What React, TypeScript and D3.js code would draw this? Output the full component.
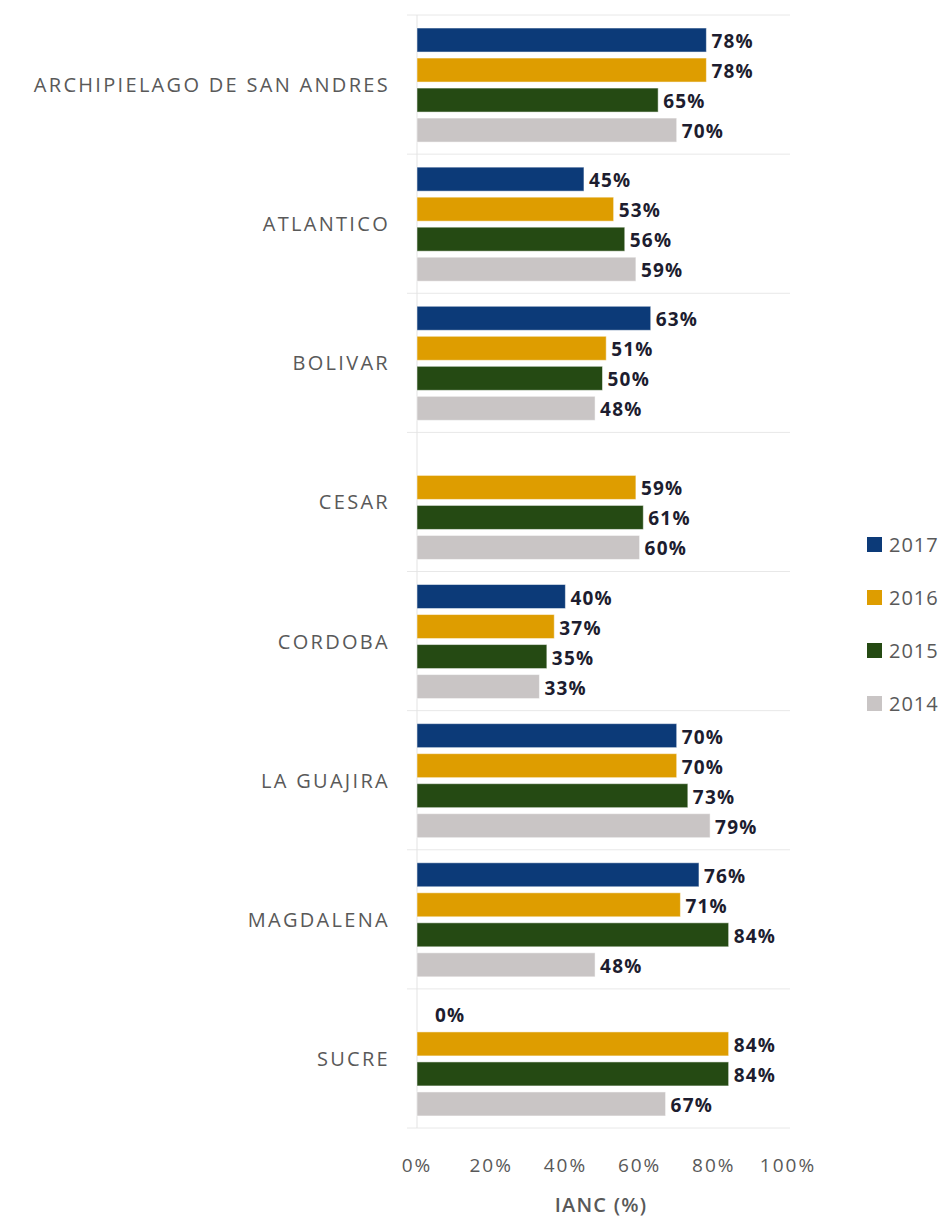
import React from "react";
import * as d3 from "d3";

const categories = [
  "ARCHIPIELAGO DE SAN ANDRES",
  "ATLANTICO",
  "BOLIVAR",
  "CESAR",
  "CORDOBA",
  "LA GUAJIRA",
  "MAGDALENA",
  "SUCRE",
];
const seriesNames = ["2017", "2016", "2015", "2014"];
const values2017: (number | null)[] = [78, 45, 63, null, 40, 70, 76, 0];
const values2016: (number | null)[] = [78, 53, 51, 59, 37, 70, 71, 84];
const values2015: (number | null)[] = [65, 56, 50, 61, 35, 73, 84, 84];
const values2014: (number | null)[] = [70, 59, 48, 60, 33, 79, 48, 67];
const seriesColors = ["#0c3a78", "#de9d00", "#254a13", "#c9c5c5"];
const xTicks = [0, 20, 40, 60, 80, 100];
const axisTitle = "IANC (%)";

const seriesValues = [values2017, values2016, values2015, values2014];

export default function App() {
  const W = 947;
  const H = 1218;
  const x = d3.scaleLinear().domain([0, 100]).range([417, 788]);
  const y = d3.scaleBand<string>().domain(categories).range([15, 1128]).padding(0);
  const gh = y.bandwidth();
  const inner = d3
    .scaleBand<string>()
    .domain(seriesNames)
    .range([gh * 0.072, gh * 0.935])
    .paddingInner(0.2)
    .paddingOuter(0.1);

  const sepYs = categories.map((c) => y(c) as number).concat([y.range()[1]]);
  const labelFont = "'Open Sans', sans-serif";

  return (
    <svg
      width={W}
      height={H}
      viewBox={`0 0 ${W} ${H}`}
      style={{ position: "absolute", left: 0, top: 0, background: "#fff" }}
    >
      <rect x={0} y={0} width={W} height={H} fill="#fff" />
      {sepYs.map((sy, i) => (
        <line key={"s" + i} x1={407} x2={790} y1={sy} y2={sy} stroke="#e8e8e8" strokeWidth={1} />
      ))}
      <line x1={x(0)} x2={x(0)} y1={y.range()[0]} y2={y.range()[1]} stroke="#e3e3e3" strokeWidth={1} />

      {categories.map((c, ci) => {
        const gy = y(c) as number;
        return (
          <g key={c}>
            <text
              x={390}
              y={gy + gh / 2}
              textAnchor="end"
              dominantBaseline="central"
              fontFamily={labelFont}
              fontSize={20}
              letterSpacing={2.3}
              fill="#595959"
            >
              {c}
            </text>
            {seriesNames.map((s, si) => {
              const v = seriesValues[si][ci];
              if (v === null) return null;
              const by = gy + (inner(s) as number);
              const bw = inner.bandwidth();
              const xe = x(v);
              const lx = Math.max(xe + 5, x(0) + 18);
              return (
                <g key={s}>
                  {v > 0 && (
                    <rect
                      x={x(0)}
                      y={by}
                      width={xe - x(0)}
                      height={bw}
                      fill={seriesColors[si]}
                      stroke="#ffffff"
                      strokeOpacity={0.5}
                      strokeWidth={1}
                    />
                  )}
                  <text
                    x={lx}
                    y={by + bw / 2 + 1}
                    dominantBaseline="central"
                    fontFamily={labelFont}
                    fontWeight="bold"
                    fontSize={19}
                    letterSpacing={1.2}
                    fill="#1d1d2f"
                  >
                    {v + "%"}
                  </text>
                </g>
              );
            })}
          </g>
        );
      })}

      {xTicks.map((t) => (
        <text
          key={"t" + t}
          x={x(t)}
          y={1172}
          textAnchor="middle"
          fontFamily={labelFont}
          fontSize={19}
          letterSpacing={2}
          fill="#595959"
        >
          {t + "%"}
        </text>
      ))}
      <text
        x={601}
        y={1212}
        textAnchor="middle"
        fontFamily={labelFont}
        fontWeight="600"
        fontSize={20}
        letterSpacing={1.2}
        fill="#595959"
      >
        {axisTitle}
      </text>

      {seriesNames.map((s, si) => (
        <g key={"l" + s}>
          <rect x={867} y={537 + si * 53} width={15} height={15} fill={seriesColors[si]} />
          <text
            x={889}
            y={544.5 + si * 53}
            dominantBaseline="central"
            fontFamily={labelFont}
            fontSize={20}
            letterSpacing={1}
            fill="#595959"
          >
            {s}
          </text>
        </g>
      ))}
    </svg>
  );
}
